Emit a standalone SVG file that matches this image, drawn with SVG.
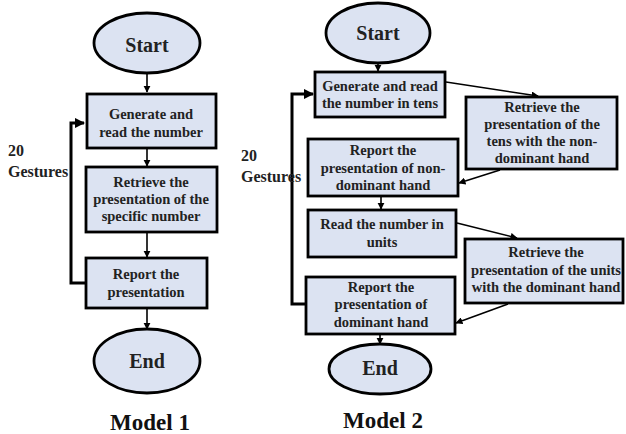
<svg xmlns="http://www.w3.org/2000/svg" width="626" height="434" viewBox="0 0 626 434">
<style>
.box{fill:#dce3f2;stroke:#000;stroke-width:2.8}
.t{font-family:"Liberation Serif","Times New Roman",serif;font-weight:bold;font-size:14.5px;fill:#222;text-anchor:middle}
.big{font-size:20px}
.cap{font-size:23px;fill:#111}
.lab{font-family:"Liberation Serif","Times New Roman",serif;font-weight:bold;font-size:16px;fill:#222}
.c{fill:none;stroke:#000;stroke-width:1.6}
.loop{fill:none;stroke:#000;stroke-width:3}
</style>
<defs>
<marker id="ah" viewBox="0 0 10 10" refX="9" refY="5" markerWidth="4.5" markerHeight="4.5" orient="auto" markerUnits="strokeWidth">
<path d="M0,0 L10,5 L0,10 z" fill="#000"/>
</marker>
<marker id="ah2" viewBox="0 0 10 10" refX="9" refY="5" markerWidth="3.5" markerHeight="3.5" orient="auto" markerUnits="strokeWidth">
<path d="M0,0 L10,5 L0,10 z" fill="#000"/>
</marker>
</defs>
<rect width="626" height="434" fill="#fff"/>

<g id="connectors">
<!-- Model 1 -->
<line class="c" x1="147" y1="74" x2="147" y2="92" marker-end="url(#ah)"/>
<line class="c" x1="147" y1="149" x2="147" y2="166" marker-end="url(#ah)"/>
<line class="c" x1="147" y1="233" x2="147" y2="257" marker-end="url(#ah)"/>
<line class="c" x1="147" y1="309" x2="147" y2="329" marker-end="url(#ah)"/>
<polyline class="loop" points="86,283 71,283 71,123 84,123" marker-end="url(#ah2)"/>
<!-- Model 2 -->
<line class="c" x1="378" y1="64" x2="378" y2="71" marker-end="url(#ah)"/>
<line class="c" x1="446" y1="82" x2="538" y2="96" marker-end="url(#ah)"/>
<line class="c" x1="500" y1="170" x2="459" y2="183" marker-end="url(#ah)"/>
<line class="c" x1="381" y1="197" x2="381" y2="209" marker-end="url(#ah)"/>
<line class="c" x1="457" y1="223" x2="517" y2="238" marker-end="url(#ah)"/>
<line class="c" x1="508" y1="304" x2="456" y2="323" marker-end="url(#ah)"/>
<line class="c" x1="380" y1="335" x2="380" y2="344" marker-end="url(#ah)"/>
<polyline class="loop" points="306,304 292,304 292,94 313,94" marker-end="url(#ah2)"/>
</g>

<g id="m1-start"><ellipse class="box" cx="147" cy="43" rx="53" ry="30"/><text class="t big" x="147" y="52">Start</text></g>
<g id="m1-generate"><rect class="box" x="87" y="94" width="129" height="54"/><text class="t" x="151" y="119">Generate and</text><text class="t" x="151" y="137">read the number</text></g>
<g id="m1-retrieve"><rect class="box" x="86" y="167" width="131" height="65"/><text class="t" x="151" y="187">Retrieve the</text><text class="t" x="151" y="204">presentation of the</text><text class="t" x="151" y="221">specific number</text></g>
<g id="m1-report"><rect class="box" x="86" y="258" width="121" height="50"/><text class="t" x="146" y="279">Report the</text><text class="t" x="146" y="297">presentation</text></g>
<g id="m1-end"><ellipse class="box" cx="147" cy="361" rx="53" ry="32"/><text class="t big" x="147" y="368">End</text></g>
<g id="m1-label"><text class="lab" x="8" y="156">20</text><text class="lab" x="8" y="177">Gestures</text></g>
<text class="t cap" x="150" y="430">Model 1</text>

<g id="m2-start"><ellipse class="box" cx="378" cy="33" rx="52" ry="30"/><text class="t big" x="378" y="40">Start</text></g>
<g id="m2-generate"><rect class="box" x="315" y="72" width="130" height="45"/><text class="t" x="380" y="91">Generate and read</text><text class="t" x="380" y="108">the number in tens</text></g>
<g id="m2-retrieve-tens"><rect class="box" x="466" y="97" width="151" height="72"/><text class="t" x="542" y="112">Retrieve the</text><text class="t" x="542" y="129">presentation of the</text><text class="t" x="542" y="146">tens with the non-</text><text class="t" x="542" y="163">dominant hand</text></g>
<g id="m2-report-nondom"><rect class="box" x="308" y="139" width="150" height="57"/><text class="t" x="383" y="155">Report the</text><text class="t" x="383" y="173">presentation of non-</text><text class="t" x="383" y="190">dominant hand</text></g>
<g id="m2-read-units"><rect class="box" x="308" y="210" width="148" height="47"/><text class="t" x="382" y="229">Read the number in</text><text class="t" x="382" y="247">units</text></g>
<g id="m2-retrieve-units"><rect class="box" x="465" y="239" width="158" height="64"/><text class="t" x="546" y="257">Retrieve the</text><text class="t" x="546" y="275">presentation of the units</text><text class="t" x="546" y="292">with the dominant hand</text></g>
<g id="m2-report-dom"><rect class="box" x="306" y="277" width="149" height="57"/><text class="t" x="381" y="292">Report the</text><text class="t" x="381" y="309">presentation of</text><text class="t" x="381" y="327">dominant hand</text></g>
<g id="m2-end"><ellipse class="box" cx="380" cy="369" rx="51" ry="25"/><text class="t big" x="380" y="375">End</text></g>
<g id="m2-label"><text class="lab" x="241" y="161">20</text><text class="lab" x="241" y="182">Gestures</text></g>
<text class="t cap" x="383" y="428">Model 2</text>
</svg>
